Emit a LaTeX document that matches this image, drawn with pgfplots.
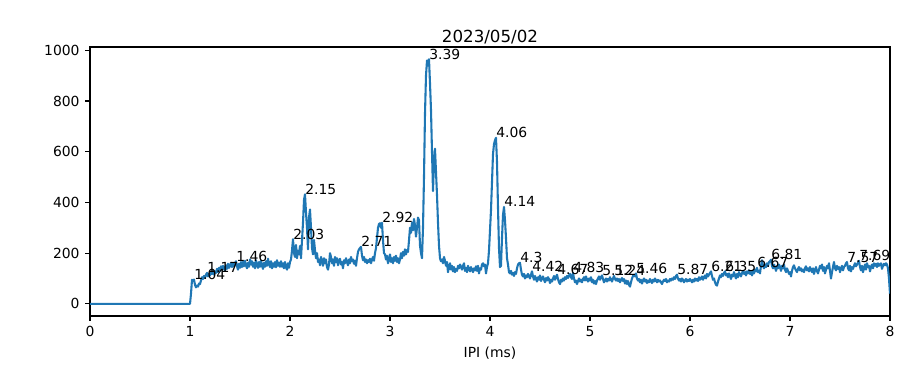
\documentclass[border=0pt]{standalone}
\usepackage{pgfplots}
\pgfplotsset{compat=1.18}
\usepackage{fontspec}
\setmainfont{DejaVu Sans}
\definecolor{mplblue}{HTML}{1F77B4}
\begin{document}
\begin{tikzpicture}
\path[use as bounding box] (0,0) rectangle (648pt,263.52pt);
\begin{axis}[
  name=ax,
  at={(64.8pt,36pt)}, anchor=south west,
  width=576pt, height=193.68pt, scale only axis,
  xmin=0, xmax=8, ymin=-48, ymax=1013,
  xtick={0,1,2,3,4,5,6,7,8},
  ytick={0,200,400,600,800,1000},
  tick align=outside, tick pos=left,
  major tick length=3.5pt,
  every tick/.style={black, line width=0.8pt},
  axis line style={line width=0.8pt},
  /pgf/number format/assume math mode=true,
  /pgf/number format/1000 sep={},
  ticklabel style={font=\fontsize{10}{12}\selectfont},
  xticklabel style={yshift=-0.5pt},
  yticklabel style={xshift=-0.5pt},
  scaled y ticks=false,
  xlabel={IPI (ms)},
  xlabel style={font=\fontsize{10}{12}\selectfont},
  clip=true,
]
\addplot[mplblue, line width=1.5pt, line join=round] table[row sep=\\] {
x y\\
0 0\\ 1.00 0\\ 1.01 40\\ 1.02 95\\ 1.03 90\\ 1.04 96\\ 1.05 75\\ 1.06 65\\ 1.07 72\\ 1.08 68\\ 1.09 80\\
1.10 78\\ 1.11 92\\ 1.12 105\\ 1.13 98\\ 1.14 110\\ 1.15 102\\ 1.16 115\\ 1.17 122\\ 1.18 108\\ 1.19 118\\
1.20 112\\ 1.21 125\\ 1.22 118\\ 1.23 130\\ 1.24 115\\ 1.25 128\\ 1.26 122\\ 1.27 138\\ 1.28 125\\ 1.29 142\\
1.30 130\\ 1.31 148\\ 1.32 135\\ 1.33 150\\ 1.34 140\\ 1.35 130\\ 1.36 152\\ 1.37 138\\ 1.38 158\\ 1.39 142\\
1.40 150\\ 1.41 162\\ 1.42 145\\ 1.43 158\\ 1.44 148\\ 1.45 160\\ 1.46 168\\ 1.47 148\\ 1.48 135\\ 1.49 158\\
1.50 142\\ 1.51 165\\ 1.52 145\\ 1.53 166\\ 1.54 148\\ 1.55 170\\ 1.56 152\\ 1.57 140\\ 1.58 162\\ 1.59 146\\
1.60 175\\ 1.61 155\\ 1.62 168\\ 1.63 146\\ 1.64 162\\ 1.65 140\\ 1.66 172\\ 1.67 152\\ 1.68 142\\ 1.69 165\\
1.70 146\\ 1.71 170\\ 1.72 150\\ 1.73 138\\ 1.74 162\\ 1.75 146\\ 1.76 168\\ 1.77 150\\ 1.78 178\\ 1.79 158\\
1.80 145\\ 1.81 168\\ 1.82 140\\ 1.83 160\\ 1.84 146\\ 1.85 165\\ 1.86 144\\ 1.87 172\\ 1.88 150\\ 1.89 162\\
1.90 146\\ 1.91 168\\ 1.92 146\\ 1.93 160\\ 1.94 140\\ 1.95 165\\ 1.96 145\\ 1.97 135\\ 1.98 160\\ 1.99 142\\
2.00 165\\ 2.01 175\\ 2.02 210\\ 2.03 255\\ 2.04 200\\ 2.05 185\\ 2.06 232\\ 2.07 180\\ 2.08 210\\ 2.09 195\\
2.10 228\\ 2.11 180\\ 2.12 250\\ 2.13 320\\ 2.14 410\\ 2.15 432\\ 2.16 360\\ 2.17 300\\ 2.18 215\\ 2.19 340\\
2.20 372\\ 2.21 300\\ 2.22 220\\ 2.23 195\\ 2.24 252\\ 2.25 212\\ 2.26 180\\ 2.27 200\\ 2.28 165\\ 2.29 175\\
2.30 152\\ 2.31 185\\ 2.32 170\\ 2.33 150\\ 2.34 180\\ 2.35 160\\ 2.36 175\\ 2.37 145\\ 2.38 135\\ 2.39 155\\
2.40 200\\ 2.41 185\\ 2.42 160\\ 2.43 175\\ 2.44 150\\ 2.45 185\\ 2.46 165\\ 2.47 180\\ 2.48 152\\ 2.49 170\\
2.50 178\\ 2.51 155\\ 2.52 165\\ 2.53 140\\ 2.54 172\\ 2.55 160\\ 2.56 180\\ 2.57 165\\ 2.58 152\\ 2.59 175\\
2.60 160\\ 2.61 185\\ 2.62 168\\ 2.63 175\\ 2.64 158\\ 2.65 170\\ 2.66 150\\ 2.67 180\\ 2.68 205\\ 2.69 215\\
2.70 220\\ 2.71 225\\ 2.72 190\\ 2.73 172\\ 2.74 185\\ 2.75 165\\ 2.76 175\\ 2.77 160\\ 2.78 172\\ 2.79 165\\
2.80 178\\ 2.81 160\\ 2.82 175\\ 2.83 185\\ 2.84 170\\ 2.85 200\\ 2.86 220\\ 2.87 260\\ 2.88 300\\ 2.89 315\\
2.90 318\\ 2.91 300\\ 2.92 320\\ 2.93 250\\ 2.94 200\\ 2.95 195\\ 2.96 175\\ 2.97 190\\ 2.98 160\\ 2.99 175\\
3.00 195\\ 3.01 165\\ 3.02 180\\ 3.03 160\\ 3.04 185\\ 3.05 170\\ 3.06 190\\ 3.07 165\\ 3.08 180\\ 3.09 160\\
3.10 175\\ 3.11 200\\ 3.12 180\\ 3.13 205\\ 3.14 190\\ 3.15 215\\ 3.16 195\\ 3.17 212\\ 3.18 205\\ 3.19 250\\
3.20 300\\ 3.21 280\\ 3.22 320\\ 3.23 290\\ 3.24 335\\ 3.25 310\\ 3.26 265\\ 3.27 300\\ 3.28 340\\ 3.29 330\\
3.30 230\\ 3.31 200\\ 3.32 180\\ 3.33 300\\ 3.34 500\\ 3.35 750\\ 3.36 900\\ 3.37 960\\ 3.38 940\\ 3.39 965\\
3.40 870\\ 3.41 765\\ 3.42 600\\ 3.43 445\\ 3.44 560\\ 3.45 612\\ 3.46 520\\ 3.47 430\\ 3.48 320\\ 3.49 230\\
3.50 180\\ 3.51 168\\ 3.52 175\\ 3.53 160\\ 3.54 185\\ 3.55 170\\ 3.56 150\\ 3.57 165\\ 3.58 125\\ 3.59 145\\
3.60 160\\ 3.61 135\\ 3.62 150\\ 3.63 128\\ 3.64 145\\ 3.65 125\\ 3.66 138\\ 3.67 130\\ 3.68 150\\ 3.69 140\\
3.70 155\\ 3.71 148\\ 3.72 135\\ 3.73 150\\ 3.74 160\\ 3.75 130\\ 3.76 142\\ 3.77 125\\ 3.78 150\\ 3.79 138\\
3.80 128\\ 3.81 145\\ 3.82 135\\ 3.83 125\\ 3.84 140\\ 3.85 132\\ 3.86 148\\ 3.87 130\\ 3.88 150\\ 3.89 120\\
3.90 140\\ 3.91 135\\ 3.92 155\\ 3.93 160\\ 3.94 148\\ 3.95 155\\ 3.96 120\\ 3.97 145\\ 3.98 160\\ 3.99 210\\
4.00 290\\ 4.01 370\\ 4.02 480\\ 4.03 590\\ 4.04 630\\ 4.05 645\\ 4.06 655\\ 4.07 560\\ 4.08 380\\ 4.09 220\\
4.10 145\\ 4.11 150\\ 4.12 260\\ 4.13 350\\ 4.14 382\\ 4.15 330\\ 4.16 260\\ 4.17 180\\ 4.18 155\\ 4.19 125\\
4.20 120\\ 4.21 130\\ 4.22 115\\ 4.23 122\\ 4.24 110\\ 4.25 125\\ 4.26 118\\ 4.27 140\\ 4.28 155\\ 4.29 160\\
4.30 162\\ 4.31 135\\ 4.32 115\\ 4.33 108\\ 4.34 118\\ 4.35 100\\ 4.36 112\\ 4.37 105\\ 4.38 118\\ 4.39 110\\
4.40 100\\ 4.41 115\\ 4.42 128\\ 4.43 108\\ 4.44 95\\ 4.45 110\\ 4.46 98\\ 4.47 88\\ 4.48 105\\ 4.49 95\\
4.50 112\\ 4.51 90\\ 4.52 100\\ 4.53 108\\ 4.54 95\\ 4.55 85\\ 4.56 102\\ 4.57 92\\ 4.58 105\\ 4.59 98\\
4.60 82\\ 4.61 95\\ 4.62 88\\ 4.63 100\\ 4.64 110\\ 4.65 95\\ 4.66 105\\ 4.67 115\\ 4.68 98\\ 4.69 85\\
4.70 78\\ 4.71 95\\ 4.72 88\\ 4.73 100\\ 4.74 92\\ 4.75 105\\ 4.76 98\\ 4.77 110\\ 4.78 102\\ 4.79 112\\
4.80 118\\ 4.81 105\\ 4.82 98\\ 4.83 122\\ 4.84 100\\ 4.85 85\\ 4.86 92\\ 4.87 78\\ 4.88 90\\ 4.89 100\\
4.90 88\\ 4.91 95\\ 4.92 85\\ 4.93 98\\ 4.94 105\\ 4.95 92\\ 4.96 108\\ 4.97 95\\ 4.98 88\\ 4.99 100\\
5.00 92\\ 5.01 105\\ 5.02 85\\ 5.03 95\\ 5.04 80\\ 5.05 90\\ 5.06 78\\ 5.07 92\\ 5.08 100\\ 5.09 108\\
5.10 95\\ 5.11 105\\ 5.12 112\\ 5.13 98\\ 5.14 85\\ 5.15 92\\ 5.16 100\\ 5.17 88\\ 5.18 98\\ 5.19 92\\
5.20 105\\ 5.21 95\\ 5.22 88\\ 5.23 100\\ 5.24 110\\ 5.25 98\\ 5.26 92\\ 5.27 100\\ 5.28 90\\ 5.29 98\\
5.30 85\\ 5.31 95\\ 5.32 102\\ 5.33 90\\ 5.34 98\\ 5.35 80\\ 5.36 92\\ 5.37 78\\ 5.38 90\\ 5.39 75\\
5.40 68\\ 5.41 85\\ 5.42 100\\ 5.43 110\\ 5.44 115\\ 5.45 108\\ 5.46 120\\ 5.47 100\\ 5.48 92\\ 5.49 98\\
5.50 85\\ 5.51 95\\ 5.52 80\\ 5.53 92\\ 5.54 100\\ 5.55 88\\ 5.56 95\\ 5.57 82\\ 5.58 92\\ 5.59 85\\
5.60 98\\ 5.61 90\\ 5.62 82\\ 5.63 95\\ 5.64 88\\ 5.65 100\\ 5.66 92\\ 5.67 85\\ 5.68 95\\ 5.69 88\\
5.70 92\\ 5.71 85\\ 5.72 78\\ 5.73 88\\ 5.74 95\\ 5.75 90\\ 5.76 98\\ 5.77 85\\ 5.78 92\\ 5.79 88\\
5.80 98\\ 5.81 92\\ 5.82 100\\ 5.83 95\\ 5.84 105\\ 5.85 98\\ 5.86 110\\ 5.87 115\\ 5.88 100\\ 5.89 92\\
5.90 98\\ 5.91 88\\ 5.92 100\\ 5.93 95\\ 5.94 85\\ 5.95 92\\ 5.96 98\\ 5.97 88\\ 5.98 95\\ 5.99 90\\
6.00 98\\ 6.01 92\\ 6.02 85\\ 6.03 95\\ 6.04 88\\ 6.05 100\\ 6.06 92\\ 6.07 98\\ 6.08 90\\ 6.09 105\\
6.10 95\\ 6.11 100\\ 6.12 108\\ 6.13 95\\ 6.14 105\\ 6.15 112\\ 6.16 100\\ 6.17 118\\ 6.18 108\\ 6.19 115\\
6.20 122\\ 6.21 128\\ 6.22 110\\ 6.23 95\\ 6.24 100\\ 6.25 85\\ 6.26 75\\ 6.27 72\\ 6.28 88\\ 6.29 100\\
6.30 112\\ 6.31 105\\ 6.32 118\\ 6.33 110\\ 6.34 122\\ 6.35 128\\ 6.36 112\\ 6.37 118\\ 6.38 105\\ 6.39 120\\
6.40 110\\ 6.41 98\\ 6.42 115\\ 6.43 108\\ 6.44 125\\ 6.45 112\\ 6.46 100\\ 6.47 118\\ 6.48 105\\ 6.49 125\\
6.50 115\\ 6.51 108\\ 6.52 120\\ 6.53 130\\ 6.54 118\\ 6.55 125\\ 6.56 112\\ 6.57 128\\ 6.58 120\\ 6.59 132\\
6.60 118\\ 6.61 125\\ 6.62 112\\ 6.63 130\\ 6.64 120\\ 6.65 135\\ 6.66 128\\ 6.67 142\\ 6.68 125\\ 6.69 130\\
6.70 120\\ 6.71 150\\ 6.72 172\\ 6.73 150\\ 6.74 140\\ 6.75 155\\ 6.76 145\\ 6.77 160\\ 6.78 150\\ 6.79 165\\
6.80 168\\ 6.81 174\\ 6.82 150\\ 6.83 140\\ 6.84 155\\ 6.85 145\\ 6.86 130\\ 6.87 148\\ 6.88 140\\ 6.89 155\\
6.90 145\\ 6.91 130\\ 6.92 150\\ 6.93 140\\ 6.94 155\\ 6.95 135\\ 6.96 125\\ 6.97 140\\ 6.98 130\\ 6.99 118\\
7.00 125\\ 7.01 108\\ 7.02 130\\ 7.03 145\\ 7.04 152\\ 7.05 140\\ 7.06 132\\ 7.07 125\\ 7.08 138\\ 7.09 145\\
7.10 132\\ 7.11 140\\ 7.12 128\\ 7.13 135\\ 7.14 125\\ 7.15 140\\ 7.16 148\\ 7.17 132\\ 7.18 140\\ 7.19 128\\
7.20 145\\ 7.21 135\\ 7.22 125\\ 7.23 140\\ 7.24 118\\ 7.25 132\\ 7.26 145\\ 7.27 128\\ 7.28 120\\ 7.29 135\\
7.30 150\\ 7.31 140\\ 7.32 155\\ 7.33 130\\ 7.34 145\\ 7.35 120\\ 7.36 135\\ 7.37 150\\ 7.38 140\\ 7.39 160\\
7.40 130\\ 7.41 100\\ 7.42 125\\ 7.43 145\\ 7.44 165\\ 7.45 140\\ 7.46 132\\ 7.47 150\\ 7.48 138\\ 7.49 145\\
7.50 125\\ 7.51 140\\ 7.52 150\\ 7.53 132\\ 7.54 145\\ 7.55 150\\ 7.56 160\\ 7.57 165\\ 7.58 140\\ 7.59 132\\
7.60 150\\ 7.61 128\\ 7.62 145\\ 7.63 138\\ 7.64 150\\ 7.65 160\\ 7.66 148\\ 7.67 155\\ 7.68 162\\ 7.69 170\\
7.70 145\\ 7.71 132\\ 7.72 150\\ 7.73 125\\ 7.74 140\\ 7.75 155\\ 7.76 135\\ 7.77 160\\ 7.78 145\\ 7.79 150\\
7.80 128\\ 7.81 145\\ 7.82 155\\ 7.83 140\\ 7.84 160\\ 7.85 150\\ 7.86 158\\ 7.87 145\\ 7.88 160\\ 7.89 150\\
7.90 155\\ 7.91 160\\ 7.92 138\\ 7.93 150\\ 7.94 158\\ 7.95 152\\ 7.96 160\\ 7.97 155\\ 7.98 140\\ 7.99 100\\
8.00 40\\
};
\foreach \xx/\yy in {1.04/96,1.17/122,1.46/168,2.03/255,2.15/432,2.71/225,2.92/320,3.39/965,4.06/655,4.14/382,4.3/162,4.42/128,4.67/115,4.83/122,5.12/112,5.24/110,5.46/120,5.87/115,6.21/128,6.35/128,6.67/142,6.81/174,7.57/165,7.69/170}{
  \edef\temp{\noexpand\node[anchor=base west, inner sep=0pt, font=\noexpand\fontsize{10}{12}\noexpand\selectfont] at (axis cs:\xx,\yy) {\xx};}
  \temp
}
\end{axis}
\node[anchor=base, inner sep=0pt, font=\fontsize{12}{14}\selectfont] at (352.8pt,232.8pt) {2023/05/02};
\end{tikzpicture}
\end{document}
